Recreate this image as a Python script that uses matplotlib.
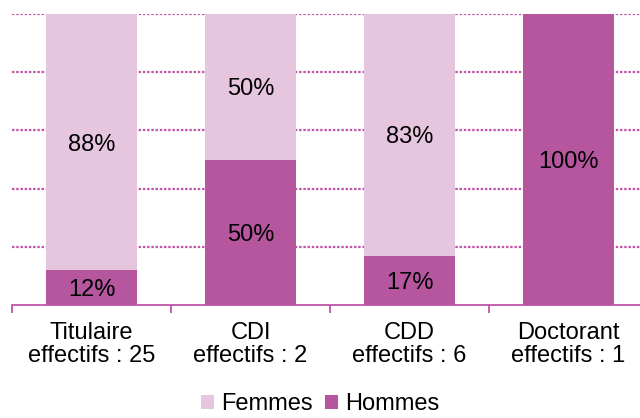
import matplotlib.pyplot as plt
import numpy as np

plt.rcParams['font.family'] = ['Liberation Sans', 'DejaVu Sans']

categories = ['Titulaire\neffectifs : 25', 'CDI\neffectifs : 2',
              'CDD\neffectifs : 6', 'Doctorant\neffectifs : 1']
hommes = [12, 50, 17, 100]
femmes = [88, 50, 83, 0]

col_h = '#b5569f'
col_f = '#e6c6df'
col_axis = '#c055aa'
fs = 17

fig = plt.figure(figsize=(6.4, 4.18), dpi=100)
ax = fig.add_axes([12 / 640, 1 - 305 / 418, 636 / 640, 291 / 418])

x = np.arange(len(categories))
ax.bar(x, hommes, width=0.57, color=col_h, label='Hommes', zorder=3)
ax.bar(x, femmes, width=0.57, bottom=hommes, color=col_f, label='Femmes', zorder=3)

for i in range(len(categories)):
    if hommes[i] > 0:
        ax.text(x[i], hommes[i] / 2, f'{hommes[i]}%', ha='center', va='center_baseline',
                fontsize=fs, zorder=4)
    if femmes[i] > 0:
        ax.text(x[i], hommes[i] + femmes[i] / 2, f'{femmes[i]}%', ha='center',
                va='center_baseline', fontsize=fs, zorder=4)

ax.set_xlim(-0.5, 3.5)
ax.set_ylim(0, 100)
ax.set_yticks([])
for y in [20, 40, 60, 80, 100]:
    ax.axhline(y, color=col_axis, linestyle=(0, (1.1, 0.8)), linewidth=1.6, zorder=1)

for s in ['top', 'right', 'left']:
    ax.spines[s].set_visible(False)
ax.spines['bottom'].set_color(col_axis)
ax.spines['bottom'].set_linewidth(1.3)

ax.set_xticks(x)
ax.set_xticklabels(categories, fontsize=fs, linespacing=1.1)
ax.tick_params(axis='x', which='major', length=0, pad=12)
ax.set_xticks(np.arange(-0.5, 4, 1), minor=True)
ax.tick_params(axis='x', which='minor', length=6, width=1.3, color=col_axis)

handles, labels = ax.get_legend_handles_labels()
fig.legend(handles[::-1], labels[::-1], loc='center', bbox_to_anchor=(0.5, 1 - 404 / 418),
           ncol=2, frameon=False, fontsize=fs, handlelength=0.55, handleheight=0.55,
           handletextpad=0.3, columnspacing=0.5, borderpad=0)

fig.savefig('out.png', dpi=100)
